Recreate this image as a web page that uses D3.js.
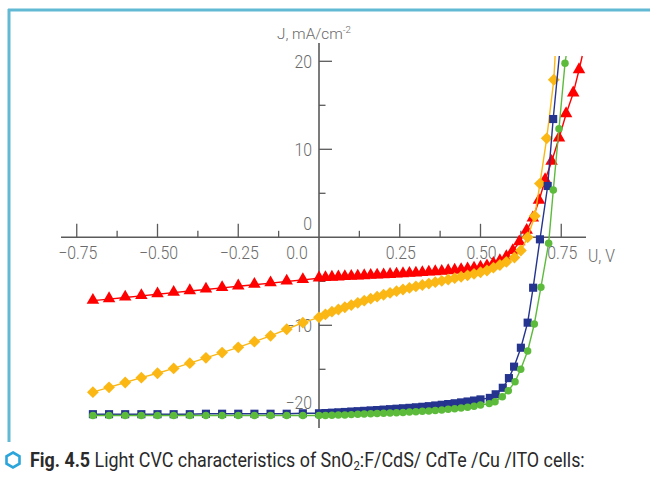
<!DOCTYPE html>
<html><head><meta charset="utf-8">
<script src="https://cdn.jsdelivr.net/npm/d3@7"></script>
<style>html,body{margin:0;padding:0;background:#fff;} svg{display:block;}</style>
</head><body>
<svg id="c" width="650" height="479"></svg>
<script>
// ---------- DATA ----------
const uNeg = [-0.70,-0.65,-0.60,-0.55,-0.50,-0.45,-0.40,-0.35,-0.30,-0.25,-0.20,-0.15,-0.10,-0.05,0.00];
const uMid = [0.02,0.04,0.06,0.08,0.10,0.12,0.14,0.16,0.18,0.20,0.22,0.24,0.26,0.28,0.30,0.32,0.34,0.36,0.38,0.40,0.42,0.44,0.46,0.48,0.50];

const redNegJ = [-7.20,-7.02,-6.84,-6.66,-6.47,-6.29,-6.11,-5.93,-5.75,-5.57,-5.39,-5.21,-5.02,-4.84,-4.66];
const redMidJ = [-4.62,-4.58,-4.55,-4.51,-4.48,-4.44,-4.41,-4.37,-4.34,-4.30,-4.26,-4.22,-4.18,-4.14,-4.10,-4.05,-4.00,-3.95,-3.90,-3.84,-3.78,-3.71,-3.63,-3.54,-3.42];
const redHighU = [0.52,0.54,0.56,0.58,0.60,0.62,0.643,0.662,0.681,0.700,0.720,0.743,0.765,0.787,0.805];
const redHighJ = [-3.28,-3.00,-2.70,-2.25,-1.55,-0.55,0.75,2.16,4.16,6.51,8.59,11.25,14.01,16.36,19.01];

const orangeNegJ = [-17.60,-17.05,-16.50,-15.95,-15.45,-14.90,-14.30,-13.70,-13.10,-12.50,-11.86,-11.20,-10.45,-9.70,-9.09];
const orangeMidJ = [-8.75,-8.45,-8.20,-7.95,-7.70,-7.45,-7.20,-6.97,-6.75,-6.53,-6.32,-6.12,-5.93,-5.75,-5.58,-5.42,-5.26,-5.10,-4.95,-4.80,-4.64,-4.48,-4.32,-4.15,-3.97];
const orangeHighU = [0.52,0.54,0.56,0.58,0.605,0.625,0.646,0.668,0.684,0.705,0.727];
const orangeHighJ = [-3.77,-3.45,-3.15,-2.80,-2.30,-1.50,0.00,2.42,6.10,11.25,17.90];

const blueNegJ = [-20.10,-20.10,-20.10,-20.10,-20.10,-20.10,-20.10,-20.05,-20.05,-20.05,-20.05,-20.05,-20.05,-20.00,-20.00];
const blueMidJ = [-19.97,-19.93,-19.89,-19.85,-19.80,-19.76,-19.72,-19.67,-19.63,-19.58,-19.53,-19.48,-19.43,-19.38,-19.32,-19.26,-19.19,-19.11,-19.03,-18.95,-18.86,-18.76,-18.66,-18.55,-18.42];
const blueHighU = [0.529,0.547,0.569,0.588,0.604,0.625,0.646,0.663,0.684,0.708,0.725];
const blueHighJ = [-18.25,-17.84,-17.10,-16.00,-14.70,-12.55,-9.70,-5.73,-0.23,5.83,13.44];

const greenNegJ = [-20.25,-20.25,-20.25,-20.25,-20.25,-20.25,-20.25,-20.25,-20.25,-20.25,-20.25,-20.25,-20.25,-20.25,-20.25];
const greenMidJ = [-20.24,-20.22,-20.20,-20.18,-20.15,-20.12,-20.09,-20.06,-20.03,-20.00,-19.97,-19.94,-19.90,-19.86,-19.82,-19.78,-19.73,-19.68,-19.62,-19.55,-19.48,-19.40,-19.30,-19.20,-19.07];
const greenHighU = [0.527,0.545,0.5675,0.586,0.607,0.6245,0.646,0.6666,0.687,0.711,0.7254,0.743,0.7616];
const greenHighJ = [-18.90,-18.68,-18.11,-17.43,-16.41,-15.00,-12.92,-9.85,-5.68,-0.68,5.38,12.34,19.77];

// where each fitted line leaves the plot (top)
const lineEndU = {red: 0.815, orange: 0.731, blue: 0.744, green: 0.765};
const lineEndJ = 20.6;

const xTickValues = [-0.75,-0.50,-0.25,0,0.25,0.50,0.75];
const xTickLabels = ["\u22120.75","\u22120.50","\u22120.25","0.0","0.25","0.50","0.75"];
const xMinorTicks = [-0.625,-0.375,-0.125,0.125,0.375,0.625];
const yTickValues = [-20,-10,0,10,20];
const yTickLabels = ["\u221220","\u221210","0","10","20"];
const yMinorTicks = [-15,-5,5,15];

// ---------- DRAW ----------
const svg = d3.select("#c");
const x = d3.scaleLinear().domain([-0.75, 0.75]).range([76.75, 561.25]);
const y = d3.scaleLinear().domain([-20, 20]).range([413.3, 61.3]);
const FONT = "Roboto, 'Liberation Sans', sans-serif";
const axisColor = "#5a5a5a", labelColor = "#6a6a6a";

// frame
svg.append("line").attr("x1", 8).attr("x2", 650).attr("y1", 10).attr("y2", 10)
  .attr("stroke", "#62b9d3").attr("stroke-width", 3);
svg.append("line").attr("x1", 9).attr("x2", 9).attr("y1", 9).attr("y2", 442)
  .attr("stroke", "#62b9d3").attr("stroke-width", 3);

function condText(parent, txt, px, py, size, sx, anchor, color, weight) {
  const g = parent.append("g").attr("transform", `translate(${px},${py}) scale(${sx},1)`);
  return g.append("text").attr("x", 0).attr("y", 0).attr("text-anchor", anchor || "middle")
    .attr("font-family", FONT).attr("font-size", size).attr("font-weight", weight || 300)
    .attr("fill", color || labelColor).text(txt);
}

const axes = svg.append("g");
const x0 = x(0), y0 = y(0);
axes.append("line").attr("x1", 61).attr("x2", 586).attr("y1", y0).attr("y2", y0)
  .attr("stroke", axisColor).attr("stroke-width", 1.6);
axes.append("line").attr("x1", x0).attr("x2", x0).attr("y1", 43).attr("y2", 428)
  .attr("stroke", axisColor).attr("stroke-width", 1.6);

xTickValues.forEach((v, i) => {
  if (v !== 0) axes.append("line").attr("x1", x(v)).attr("x2", x(v)).attr("y1", y0).attr("y2", y0 - 13.5)
    .attr("stroke", axisColor).attr("stroke-width", 1.3);
  condText(axes, xTickLabels[i], x(v) + (v === 0 ? -23 : 0) + 1, 258.5, 18, 0.88, "middle");
});
xMinorTicks.forEach(v => {
  axes.append("line").attr("x1", x(v)).attr("x2", x(v)).attr("y1", y0).attr("y2", y0 - 6.5)
    .attr("stroke", axisColor).attr("stroke-width", 1.3);
});
yTickValues.forEach((v, i) => {
  if (v !== 0) axes.append("line").attr("x1", x0).attr("x2", x0 + 13).attr("y1", y(v)).attr("y2", y(v))
    .attr("stroke", axisColor).attr("stroke-width", 1.3);
  const shift = v === 0 ? -13.5 : (v === -20 ? -11 : 0);
  condText(axes, yTickLabels[i], x0 - 7, y(v) + 6.4 + shift, 18, 0.88, "end");
});
yMinorTicks.forEach(v => {
  axes.append("line").attr("x1", x0).attr("x2", x0 + 6.5).attr("y1", y(v)).attr("y2", y(v))
    .attr("stroke", axisColor).attr("stroke-width", 1.3);
});

{
  const t = condText(axes, "", 0, 0, 15, 1, "start");
  t.append("tspan").text("J, mA/cm");
  t.append("tspan").attr("font-size", 9.5).attr("dy", -6).text("-2");
  const w = t.node().getComputedTextLength();
  t.node().parentNode.setAttribute("transform", `translate(277,38.5) scale(${74 / w},1)`);
}
condText(axes, "U, V", 588, 261.7, 18.5, 0.85, "start");

const series = [
  {key: "red", color: "#ff0000", shape: "tri", u: uNeg.concat(uMid, redHighU), j: redNegJ.concat(redMidJ, redHighJ)},
  {key: "orange", color: "#fbb714", shape: "dia", u: uNeg.concat(uMid, orangeHighU), j: orangeNegJ.concat(orangeMidJ, orangeHighJ)},
  {key: "blue", color: "#24348f", shape: "sq", u: uNeg.concat(uMid, blueHighU), j: blueNegJ.concat(blueMidJ, blueHighJ)},
  {key: "green", color: "#5dbb3c", shape: "circ", u: uNeg.concat(uMid, greenHighU), j: greenNegJ.concat(greenMidJ, greenHighJ)}
];
const line = d3.line().x(d => x(d[0])).y(d => y(d[1]));
const sym = {
  tri: d3.symbol().type(d3.symbolTriangle).size(68),
  dia: d3.symbol().type(d3.symbolSquare).size(70),
  sq: d3.symbol().type(d3.symbolSquare).size(66),
  circ: d3.symbol().type(d3.symbolCircle).size(44)
};
const plot = svg.append("g");
series.forEach(s => {
  const pts = s.u.map((u, i) => [u, s.j[i]]);
  const linePts = pts.concat([[lineEndU[s.key], lineEndJ]]);
  plot.append("path").attr("d", line(linePts)).attr("fill", "none")
    .attr("stroke", s.color).attr("stroke-width", 1.4);
  plot.append("g").selectAll("path").data(pts).join("path")
    .attr("d", sym[s.shape]())
    .attr("transform", d => `translate(${x(d[0])},${y(d[1])})` + (s.shape === "dia" ? " rotate(45)" : "") + (s.shape === "tri" ? " translate(0,-0.5)" : ""))
    .attr("fill", s.color);
});

{
  const hex = d3.range(6).map(k => {
    const a = Math.PI / 3 * k - Math.PI / 2;
    return [13 + 7.5 * Math.cos(a), 460 + 7.5 * Math.sin(a)];
  });
  svg.append("polygon").attr("points", hex.map(p => p.join(",")).join(" "))
    .attr("fill", "none").attr("stroke", "#2ba5da").attr("stroke-width", 2.6);
  const g = svg.append("g");
  const t = g.append("text").attr("x", 0).attr("y", 0).attr("font-family", FONT)
    .attr("font-size", 20.5).attr("fill", "#2a2a2a");
  t.append("tspan").attr("font-weight", 700).text("Fig. 4.5");
  t.append("tspan").attr("font-weight", 400).text(" Light CVC characteristics of SnO");
  t.append("tspan").attr("font-weight", 400).attr("font-size", 13).attr("dy", 3).text("2");
  t.append("tspan").attr("font-weight", 400).attr("dy", -3).text(":F/CdS/ CdTe /Cu /ITO cells:");
  const w = t.node().getComputedTextLength();
  g.attr("transform", `translate(30,466.5) scale(${555 / w},1)`);
}
</script>
</body></html>
